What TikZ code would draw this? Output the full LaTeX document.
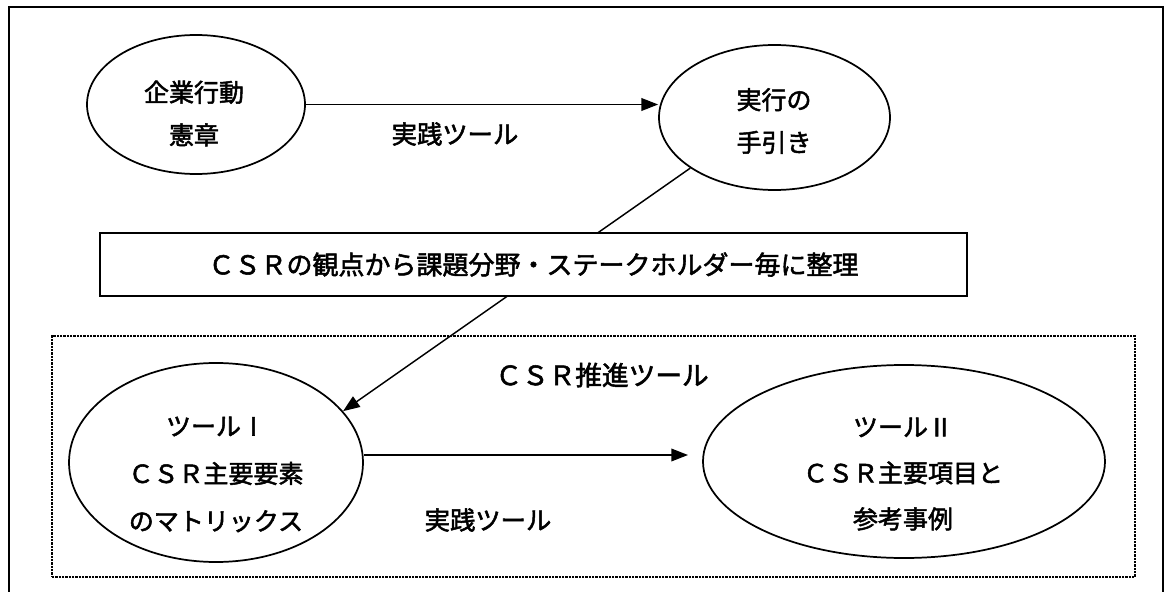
\documentclass[tikz,border=0pt]{standalone}
\usepackage{fontspec}
\newfontfamily\jp{Noto Sans CJK JP}[FakeBold=2]
\usetikzlibrary{shapes.geometric,arrows.meta}
\begin{document}
\begin{tikzpicture}[x=0.75pt,y=-0.75pt,
  ell/.style={draw,ellipse,line width=1.3pt,inner sep=0pt},
  txt/.style={align=center,inner sep=0pt,font=\jp\fontsize{18.75}{32}\selectfont},
  lbl/.style={inner sep=0pt,font=\jp\fontsize{19}{23}\selectfont},
  conn/.style={line width=1.1pt,-{Triangle[length=12.5pt,width=9.5pt]}},
  frameline/.style={line width=1.5pt},
  bandbox/.style={draw,fill=white,line width=1.8pt,inner sep=0pt},
  groupbox/.style={draw,line width=2pt,dash pattern=on 1.8pt off 0.7pt,inner sep=0pt}]
\useasboundingbox (0,0) rectangle (1165,592);
% outer frame
\coordinate (fbl) at (9,592);
\coordinate (ftl) at (9,7);
\coordinate (ftr) at (1163,7);
\coordinate (fbr) at (1163,592);
\draw[frameline] (fbl) -- (ftl) -- (ftr) -- (fbr);
% group box
\node[groupbox,minimum width=812.25pt,minimum height=180.75pt] (tools) at (593.5,456.5) {};
% ellipses
\node[ell,minimum width=163.5pt,minimum height=104.25pt] (e1) at (196,104.5) {};
\node[ell,minimum width=173.25pt,minimum height=108.75pt] (e2) at (774.5,117.5) {};
\node[ell,minimum width=220.5pt,minimum height=149.25pt] (e3) at (216,462.5) {};
\node[ell,minimum width=301.5pt,minimum height=144.75pt] (e4) at (904,461.5) {};
% ellipse texts
\node[txt] (e1t) at (194,113.5) {企業行動\\憲章};
\node[txt] (e2t) at (774,121) {実行の\\手引き};
\node[txt,font=\jp\fontsize{18.75}{35.6}\selectfont] (e3t) at (216,474.5) {ツールⅠ\\ＣＳＲ主要要素\\のマトリックス};
\node[txt,font=\jp\fontsize{18.75}{34.5}\selectfont] (e4t) at (903,474) {ツールⅡ\\ＣＳＲ主要項目と\\参考事例};
% connectors
\draw[conn] (e1.east) -- (e1.east -| e2.west);
\coordinate (t2) at (688,455);
\draw[conn] (e3.east |- t2) -- (t2);
\draw[conn] (e2.211.85) -- (e3.22.5);
% band
\node[bandbox,minimum width=650.25pt,minimum height=47.25pt,font=\jp\fontsize{19.5}{23}\selectfont] (band) at (533.5,264.5) {ＣＳＲの観点から課題分野・ステークホルダー毎に整理};
% labels
\node[lbl] (l1) at (455,134) {実践ツール};
\node[lbl] (l2) at (488,520) {実践ツール};
\node[lbl,font=\jp\fontsize{20}{24}\selectfont] (tt) at (602,375) {ＣＳＲ推進ツール};
\end{tikzpicture}
\end{document}
